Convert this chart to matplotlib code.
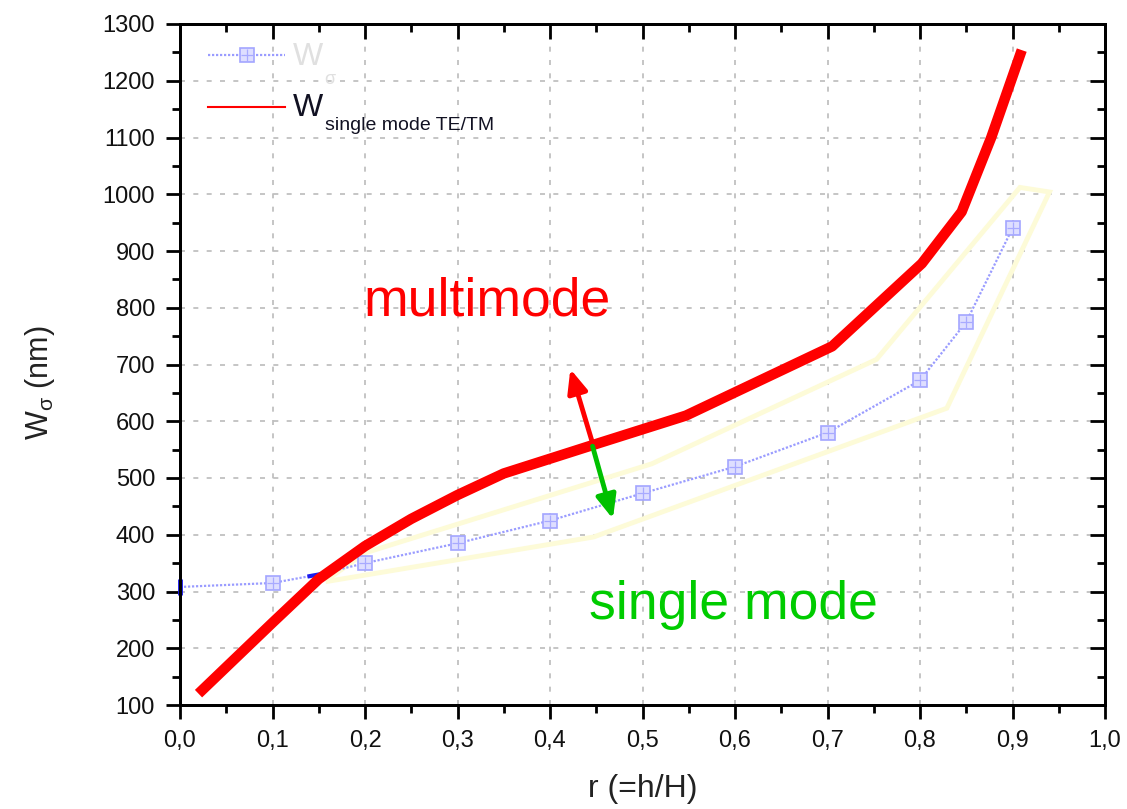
import matplotlib
matplotlib.use("Agg")
import matplotlib.pyplot as plt
from matplotlib.ticker import MultipleLocator, FuncFormatter
from matplotlib.lines import Line2D

plt.rcParams['font.family'] = ['Liberation Sans', 'DejaVu Sans']

# W_sigma curve (nm) versus r = h/H
r_sigma = [0.0, 0.1, 0.15, 0.2, 0.3, 0.4, 0.5, 0.6, 0.7, 0.8, 0.85, 0.9]
w_sigma = [308, 315, 330, 350, 385, 425, 473, 520, 580, 672, 775, 940]
sigma_marked = [1, 3, 4, 5, 6, 7, 8, 9, 10, 11]

# single-mode cut-off width for TE/TM
r_single = [0.02, 0.1, 0.15, 0.2, 0.25, 0.3, 0.35, 0.45, 0.547, 0.705, 0.802, 0.845, 0.877, 0.91]
w_single = [120, 245, 322, 380, 428, 470, 508, 560, 610, 732, 878, 969, 1100, 1254]

# highlighted band around the W_sigma curve
band_r = [0.16, 0.2, 0.51, 0.753, 0.908, 0.94, 0.829, 0.447, 0.16]
band_w = [322, 368, 525, 709, 1012, 1004, 623, 396, 318]

fig = plt.figure(figsize=(11.27, 8.09), dpi=100)
ax = fig.add_axes([180 / 1127, 1 - 705 / 809, 925 / 1127, 681 / 809])

SIG_LINE = '#9a9cff'
SIG_EDGE = '#a3a5ff'
SIG_FACE = '#dedeff'

ax.plot(band_r, band_w, color='#fdfbd8', lw=3.5, solid_joinstyle='miter', zorder=2)

ax.plot(r_sigma, w_sigma, color=SIG_LINE, lw=1.6, ls=(0, (1, 0.8)),
        marker='s', ms=10, mfc=SIG_FACE, mec=SIG_EDGE, mew=1.2,
        markevery=sigma_marked, zorder=3)
ax.plot([r_sigma[i] for i in sigma_marked], [w_sigma[i] for i in sigma_marked],
        ls='none', marker='+', ms=8, mec='#a8aaff', mew=0.9, zorder=3)
# darker ends of the W_sigma curve
ax.plot([0.0], [w_sigma[0]], marker='|', ms=12, mew=3.5, color='#1a1aee', zorder=3,
        clip_on=False)
ax.plot([0.14, 0.16], [327, 333], color='#1a1aee', lw=3, zorder=3)

ax.plot(r_single, w_single, color='#ff0000', lw=7.5, solid_capstyle='butt', zorder=4)

# direction arrows
ax.annotate('', xy=(0.422, 692), xytext=(0.447, 556),
            arrowprops=dict(arrowstyle='-|>,head_length=1.4,head_width=0.6',
                            color='#ff0000', lw=3.5, shrinkA=0, shrinkB=0), zorder=5)
ax.annotate('', xy=(0.468, 428), xytext=(0.446, 556),
            arrowprops=dict(arrowstyle='-|>,head_length=1.4,head_width=0.6',
                            color='#00c000', lw=3.5, shrinkA=0, shrinkB=0), zorder=5)

ax.text(0.332, 811, 'multimode', color='#ff0000', fontsize=38.5, ha='center', va='center')
ax.text(0.598, 277, 'single mode', color='#00cc00', fontsize=38.5, ha='center', va='center')

ax.set_xlim(0, 1.0)
ax.set_ylim(100, 1300)
ax.xaxis.set_major_locator(MultipleLocator(0.1))
ax.xaxis.set_minor_locator(MultipleLocator(0.05))
ax.yaxis.set_major_locator(MultipleLocator(100))
ax.yaxis.set_minor_locator(MultipleLocator(50))
ax.xaxis.set_major_formatter(FuncFormatter(lambda v, p: f'{v:.1f}'.replace('.', ',')))

ax.grid(True, which='major', color='#bbbbbb', ls=(0, (3, 5)), lw=1.2)
for s in ax.spines.values():
    s.set_linewidth(2)

ax.tick_params(which='both', labelsize=17, width=2, direction='out',
               top=False, right=False, colors='black', labelcolor='#111111')
ax.tick_params(which='major', length=10, pad=8)
ax.tick_params(which='minor', length=5.5)

# inward ticks on the top and right frame
ax2 = ax.twiny()
ax2.set_xlim(ax.get_xlim())
ax2.xaxis.set_major_locator(MultipleLocator(0.1))
ax2.xaxis.set_minor_locator(MultipleLocator(0.05))
ax2.tick_params(which='both', direction='in', width=2, labeltop=False)
ax2.tick_params(which='major', length=11)
ax2.tick_params(which='minor', length=6)
ax3 = ax.twinx()
ax3.set_ylim(ax.get_ylim())
ax3.yaxis.set_major_locator(MultipleLocator(100))
ax3.yaxis.set_minor_locator(MultipleLocator(50))
ax3.tick_params(which='both', direction='in', width=2, labelright=False)
ax3.tick_params(which='major', length=11)
ax3.tick_params(which='minor', length=6)
for a in (ax2, ax3):
    for s in a.spines.values():
        s.set_linewidth(2)

ax.set_xlabel('r (=h/H)', fontsize=23, color='#222222')
ax.xaxis.set_label_coords(0.5, -0.102)
ax.set_ylabel(r'W$_{\mathregular{σ}}$ (nm)', fontsize=22, color='#222222')
ax.yaxis.set_label_coords(-0.133, 0.473)

# legend drawn in axes coordinates
tr = ax3.transAxes
ax3.add_line(Line2D([0.0303, 0.1135], [0.9545, 0.9545], transform=tr, color=SIG_LINE,
                    lw=1.6, ls=(0, (1, 0.8))))
ax3.add_line(Line2D([0.0724], [0.9545], transform=tr, marker='s', ms=10, mfc=SIG_FACE,
                    mec=SIG_EDGE, mew=1.2, ls='none'))
ax3.add_line(Line2D([0.0724], [0.9545], transform=tr, marker='+', ms=8, mec='#a8aaff',
                    mew=0.9, ls='none'))
ax3.text(0.122, 0.9515, 'W', transform=tr, fontsize=23, color='#e0e0e0',
         ha='left', va='center')
ax3.text(0.156, 0.918, 'σ', transform=tr, fontsize=13, color='#e0e0e0',
         ha='left', va='center')
ax3.add_line(Line2D([0.0303, 0.1135], [0.878, 0.878], transform=tr, color='#ff0000', lw=1.5))
ax3.text(0.122, 0.876, 'W', transform=tr, fontsize=23, color='#111122',
         ha='left', va='center')
ax3.text(0.157, 0.844, 'single mode TE/TM', transform=tr, fontsize=14, color='#111122',
         ha='left', va='baseline')

fig.savefig('out.png', dpi=100)
